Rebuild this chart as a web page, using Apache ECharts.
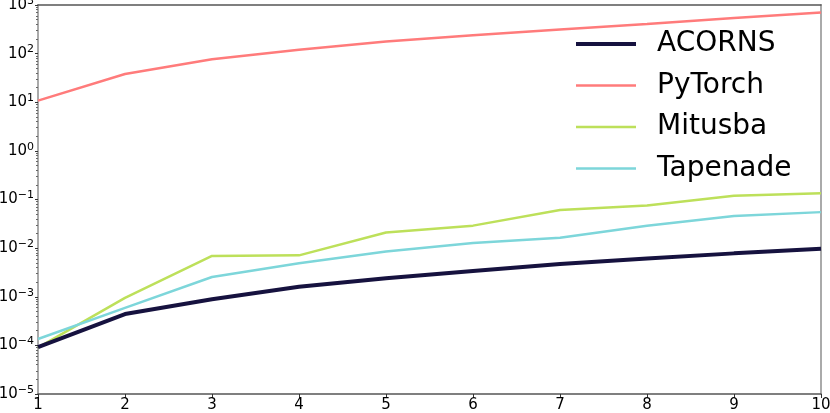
<!DOCTYPE html>
<html><head><meta charset="utf-8">
<script src="https://cdn.jsdelivr.net/npm/echarts@6/dist/echarts.min.js"></script>
<style>html,body{margin:0;padding:0;background:#fff}#c{width:830px;height:413px}</style>
</head><body><div id="c"></div>
<script>
const xValues = [1, 2, 3, 4, 5, 6, 7, 8, 9, 10];
const acorns   = [9.2e-5, 4.4e-4, 8.9e-4, 1.6e-3, 2.4e-3, 3.4e-3, 4.7e-3, 6.1e-3, 7.8e-3, 9.7e-3];
const pytorch  = [10.8, 38, 77, 120, 177, 240, 315, 405, 540, 700];
const mitsuba  = [9.0e-5, 9.5e-4, 6.9e-3, 7.1e-3, 0.021, 0.029, 0.061, 0.075, 0.119, 0.135];
const tapenade = [1.35e-4, 5.9e-4, 2.55e-3, 4.9e-3, 8.5e-3, 0.0128, 0.0164, 0.029, 0.046, 0.055];
const yTickExps = [-5, -4, -3, -2, -1, 0, 1, 2, 3];

const pair = arr => xValues.map((x, i) => [x, arr[i]]);
const font = 'DejaVu Sans';
const chart = echarts.init(document.getElementById('c'), null, {renderer:'canvas'});
chart.setOption({
  animation: false,
  backgroundColor: '#fff',
  grid: {left: 38, right: 9, top: 5, bottom: 19, containLabel: false, outerBoundsMode: 'none'},
  legend: {
    orient: 'vertical', left: 576, top: 28, padding: 0,
    itemWidth: 60, itemHeight: 14, itemGap: 9.5, symbolKeepAspect: true,
    textStyle: {fontFamily: font, fontSize: 28, color: '#000', lineHeight: 32, padding: [0,0,0,16]},
    data: [
      {name: 'ACORNS', icon: 'path://M0,0H60V4H0Z'},
      {name: 'PyTorch', icon: 'path://M0,0H60V2.5H0Z'},
      {name: 'Mitusba', icon: 'path://M0,0H60V2.5H0Z'},
      {name: 'Tapenade', icon: 'path://M0,0H60V2.5H0Z'}
    ]
  },
  xAxis: [{
    type: 'value', min: 1, max: 10, interval: 1,
    axisLine: {show: true, onZero: false, lineStyle: {color: '#555', width: 1.5}},
    axisTick: {show: true, length: 4, lineStyle: {color: '#333'}},
    axisLabel: {fontFamily: font, fontSize: 15, color: '#000', margin: 4},
    splitLine: {show: false}
  }, {
    type: 'value', min: 1, max: 10, position: 'top',
    axisLine: {show: true, onZero: false, lineStyle: {color: '#555', width: 1.5}},
    axisTick: {show: false}, axisLabel: {show: false}, splitLine: {show: false}
  }],
  yAxis: [{
    type: 'log', logBase: 10, min: 1e-5, max: 1e3,
    axisLine: {show: true, onZero: false, lineStyle: {color: '#aaa', width: 2}},
    axisTick: {show: true, length: 3, lineStyle: {color: '#333'}},
    minorTick: {show: true, splitNumber: 9, length: 2, lineStyle: {color: '#666'}},
    axisLabel: {
      fontFamily: font, fontSize: 15, color: '#000', margin: 4,
      formatter: v => {
        const e = Math.round(Math.log10(v));
        if (!yTickExps.includes(e)) return '';
        return '10{s|' + String(e).replace('-', '\u2212') + '}';
      },
      rich: {s: {fontFamily: font, fontSize: 11, color: '#000', verticalAlign: 'top', padding: [0,0,8,0]}}
    },
    splitLine: {show: false}
  }, {
    type: 'log', logBase: 10, min: 1e-5, max: 1e3, position: 'right',
    axisLine: {show: true, onZero: false, lineStyle: {color: '#aaa', width: 2}},
    axisTick: {show: false}, axisLabel: {show: false}, splitLine: {show: false}
  }],
  series: [
    {name: 'ACORNS', type: 'line', data: pair(acorns), symbol: 'none', z: 5,
     lineStyle: {color: '#16123f', width: 4}, itemStyle: {color: '#16123f'}},
    {name: 'PyTorch', type: 'line', data: pair(pytorch), symbol: 'none',
     lineStyle: {color: '#ff7b7b', width: 2.5}, itemStyle: {color: '#ff7b7b'}},
    {name: 'Mitusba', type: 'line', data: pair(mitsuba), symbol: 'none',
     lineStyle: {color: '#bde05a', width: 2.5}, itemStyle: {color: '#bde05a'}},
    {name: 'Tapenade', type: 'line', data: pair(tapenade), symbol: 'none',
     lineStyle: {color: '#7dd6da', width: 2.5}, itemStyle: {color: '#7dd6da'}}
  ]
});
</script></body></html>
